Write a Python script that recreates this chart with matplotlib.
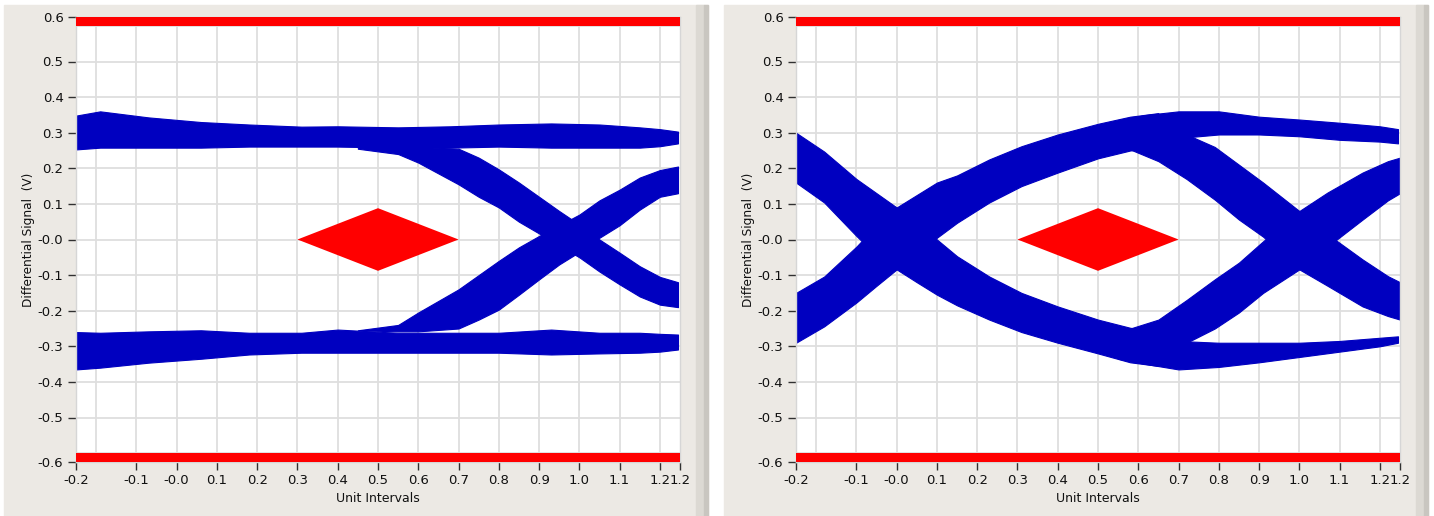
import matplotlib.pyplot as plt
from matplotlib.patches import Rectangle, Polygon

# ---- axis labels / ticks ----
x_tick_pos = [-0.25, -0.1, 0.0, 0.1, 0.2, 0.3, 0.4, 0.5, 0.6, 0.7, 0.8, 0.9, 1.0, 1.1, 1.2, 1.25]
x_tick_lbl = ['-0.2', '-0.1', '-0.0', '0.1', '0.2', '0.3', '0.4', '0.5', '0.6', '0.7',
              '0.8', '0.9', '1.0', '1.1', '1.2', '1.2']
y_tick_pos = [-0.625, -0.5, -0.4, -0.3, -0.2, -0.1, 0.0, 0.1, 0.2, 0.3, 0.4, 0.5, 0.625]
y_tick_lbl = ['-0.6', '-0.5', '-0.4', '-0.3', '-0.2', '-0.1', '-0.0',
              '0.1', '0.2', '0.3', '0.4', '0.5', '0.6']
grid_x = [-0.2, -0.1, 0.0, 0.1, 0.2, 0.3, 0.4, 0.5, 0.6, 0.7, 0.8, 0.9, 1.0, 1.1, 1.2]
grid_y = [-0.6, -0.5, -0.4, -0.3, -0.2, -0.1, 0.0, 0.1, 0.2, 0.3, 0.4, 0.5, 0.6]

# eye mask and limit lines
mask_x = [0.3, 0.5, 0.7, 0.5]
mask_y = [0.0, 0.088, 0.0, -0.088]
limit_lo, limit_hi = 0.6, 0.625

# ---- left eye (band envelopes) ----
l_rail_x = [-0.25, -0.19, -0.07, 0.06, 0.18, 0.31, 0.40, 0.55, 0.68, 0.80, 0.93, 1.05, 1.15, 1.20, 1.245]
l_top_hi = [0.348, 0.36, 0.343, 0.33, 0.323, 0.317, 0.318, 0.315, 0.318, 0.323, 0.326, 0.323, 0.315, 0.31, 0.303]
l_top_lo = [0.253, 0.258, 0.258, 0.258, 0.261, 0.261, 0.261, 0.258, 0.258, 0.261, 0.258, 0.258, 0.258, 0.262, 0.27]
l_bot_hi = [-0.26, -0.262, -0.258, -0.255, -0.262, -0.262, -0.253, -0.262, -0.262, -0.262, -0.253, -0.262, -0.262, -0.265, -0.267]
l_bot_lo = [-0.365, -0.36, -0.346, -0.335, -0.323, -0.318, -0.318, -0.318, -0.318, -0.318, -0.323, -0.32, -0.318, -0.315, -0.309]

l_edge_x = [0.45, 0.55, 0.60, 0.70, 0.75, 0.80, 0.85, 0.90, 0.95, 1.00, 1.05, 1.10, 1.15, 1.20, 1.245]
l_fall_hi = [0.26, 0.26, 0.26, 0.255, 0.23, 0.197, 0.16, 0.12, 0.08, 0.042, 0.0, -0.037, -0.075, -0.105, -0.12]
l_fall_lo = [0.255, 0.24, 0.216, 0.155, 0.12, 0.09, 0.05, 0.017, -0.017, -0.05, -0.09, -0.126, -0.16, -0.183, -0.19]
l_rise_hi = [-0.255, -0.24, -0.205, -0.14, -0.10, -0.06, -0.022, 0.01, 0.04, 0.07, 0.11, 0.14, 0.174, 0.195, 0.205]
l_rise_lo = [-0.255, -0.258, -0.258, -0.25, -0.225, -0.197, -0.155, -0.112, -0.07, -0.035, 0.005, 0.04, 0.084, 0.12, 0.13]

# ---- right eye ----
r_in_x = [-0.25, -0.18, -0.10, -0.05, 0.0, 0.05, 0.10, 0.15, 0.23, 0.31, 0.40, 0.50, 0.58, 0.65]
r_fall_in_hi = [0.30, 0.247, 0.17, 0.13, 0.09, 0.045, 0.0, -0.047, -0.104, -0.15, -0.188, -0.225, -0.248, -0.26]
r_fall_in_lo = [0.16, 0.104, 0.01, -0.045, -0.084, -0.12, -0.155, -0.185, -0.225, -0.26, -0.29, -0.32, -0.345, -0.355]
r_rise_in_hi = [-0.15, -0.104, -0.02, 0.04, 0.09, 0.125, 0.16, 0.18, 0.225, 0.262, 0.295, 0.325, 0.345, 0.355]
r_rise_in_lo = [-0.29, -0.244, -0.177, -0.13, -0.084, -0.04, 0.005, 0.047, 0.104, 0.15, 0.188, 0.228, 0.25, 0.26]

r_rail_x = [0.55, 0.62, 0.70, 0.80, 0.90, 1.00, 1.10, 1.20, 1.245]
r_top_hi = [0.335, 0.35, 0.36, 0.36, 0.345, 0.337, 0.328, 0.318, 0.31]
r_top_lo = [0.25, 0.26, 0.285, 0.295, 0.295, 0.29, 0.28, 0.275, 0.27]
r_bot_hi = [-0.25, -0.26, -0.285, -0.29, -0.29, -0.29, -0.285, -0.276, -0.272]
r_bot_lo = [-0.335, -0.35, -0.365, -0.358, -0.345, -0.33, -0.315, -0.30, -0.29]

r_out_x = [0.58, 0.65, 0.72, 0.79, 0.85, 0.91, 1.00, 1.07, 1.157, 1.22, 1.25]
r_fall_out_hi = [0.30, 0.30, 0.295, 0.26, 0.21, 0.16, 0.08, 0.015, -0.056, -0.103, -0.12]
r_fall_out_lo = [0.253, 0.22, 0.17, 0.112, 0.056, 0.008, -0.084, -0.13, -0.188, -0.215, -0.225]
r_rise_out_hi = [-0.25, -0.225, -0.17, -0.112, -0.065, -0.005, 0.08, 0.132, 0.188, 0.22, 0.23]
r_rise_out_lo = [-0.30, -0.30, -0.29, -0.25, -0.205, -0.15, -0.084, -0.02, 0.056, 0.11, 0.13]

BLUE = '#0000C0'
RED = '#FF0000'
PANEL = '#ECE9E4'

left_bands = [
    (l_rail_x, l_top_lo, l_top_hi),
    (l_rail_x, l_bot_lo, l_bot_hi),
    (l_edge_x, l_fall_lo, l_fall_hi),
    (l_edge_x, l_rise_lo, l_rise_hi),
]
right_bands = [
    (r_in_x, r_fall_in_lo, r_fall_in_hi),
    (r_in_x, r_rise_in_lo, r_rise_in_hi),
    (r_rail_x, r_top_lo, r_top_hi),
    (r_rail_x, r_bot_lo, r_bot_hi),
    (r_out_x, r_fall_out_lo, r_fall_out_hi),
    (r_out_x, r_rise_out_lo, r_rise_out_hi),
]

W, H = 1434, 516
fig = plt.figure(figsize=(W / 100, H / 100), dpi=100, facecolor='white')

# grey panel backgrounds with a darker right rim
for x0, x1 in [(4, 708), (724, 1428)]:
    fig.add_artist(Rectangle((x0 / W, 0), (x1 - x0) / W, (H - 5) / H,
                             transform=fig.transFigure, color=PANEL, zorder=0))
    fig.add_artist(Rectangle(((x1 - 12) / W, 0), 8 / W, (H - 5) / H,
                             transform=fig.transFigure, color='#DCD9D3', zorder=0))
    fig.add_artist(Rectangle(((x1 - 4) / W, 0), 4 / W, (H - 5) / H,
                             transform=fig.transFigure, color='#C9C6C0', zorder=0))


def draw_eye(left_px, bands):
    ax = fig.add_axes([left_px / W, (H - 462) / H, 604 / W, 445 / H])
    ax.set_facecolor('white')
    ax.set_xlim(-0.25, 1.25)
    ax.set_ylim(-0.625, 0.625)

    ax.set_xticks(x_tick_pos)
    ax.set_xticklabels(x_tick_lbl)
    ax.set_yticks(y_tick_pos)
    ax.set_yticklabels(y_tick_lbl)
    for gx in grid_x:
        ax.axvline(gx, color='#DEDEDE', lw=1.3, zorder=1)
    for gy in grid_y:
        ax.axhline(gy, color='#DEDEDE', lw=1.3, zorder=1)
    ax.tick_params(direction='out', length=6, width=1, color='#303030',
                   labelsize=9.5, labelcolor='#111111', pad=3)
    for s in ax.spines.values():
        s.set_color('#D6D6D6')
        s.set_linewidth(1)

    for bx, lo, hi in bands:
        ax.fill_between(bx, lo, hi, facecolor=BLUE, edgecolor=BLUE, lw=0.8, zorder=2)

    ax.fill_between([-0.25, 1.25], limit_lo, limit_hi, color=RED, lw=0, zorder=3)
    ax.fill_between([-0.25, 1.25], -limit_hi, -limit_lo, color=RED, lw=0, zorder=3)
    ax.add_patch(Polygon(list(zip(mask_x, mask_y)), closed=True, color=RED, lw=0, zorder=3))

    ax.set_xlabel('Unit Intervals', fontsize=9, color='#111111')
    ax.set_ylabel('Differential Signal  (V)', fontsize=8.7, color='#111111')
    ax.xaxis.set_label_coords(0.5, -0.068)
    ax.yaxis.set_label_coords(-0.068, 0.5)
    return ax


draw_eye(76, left_bands)
draw_eye(796, right_bands)

fig.savefig('out.png', dpi=100, facecolor='white')
